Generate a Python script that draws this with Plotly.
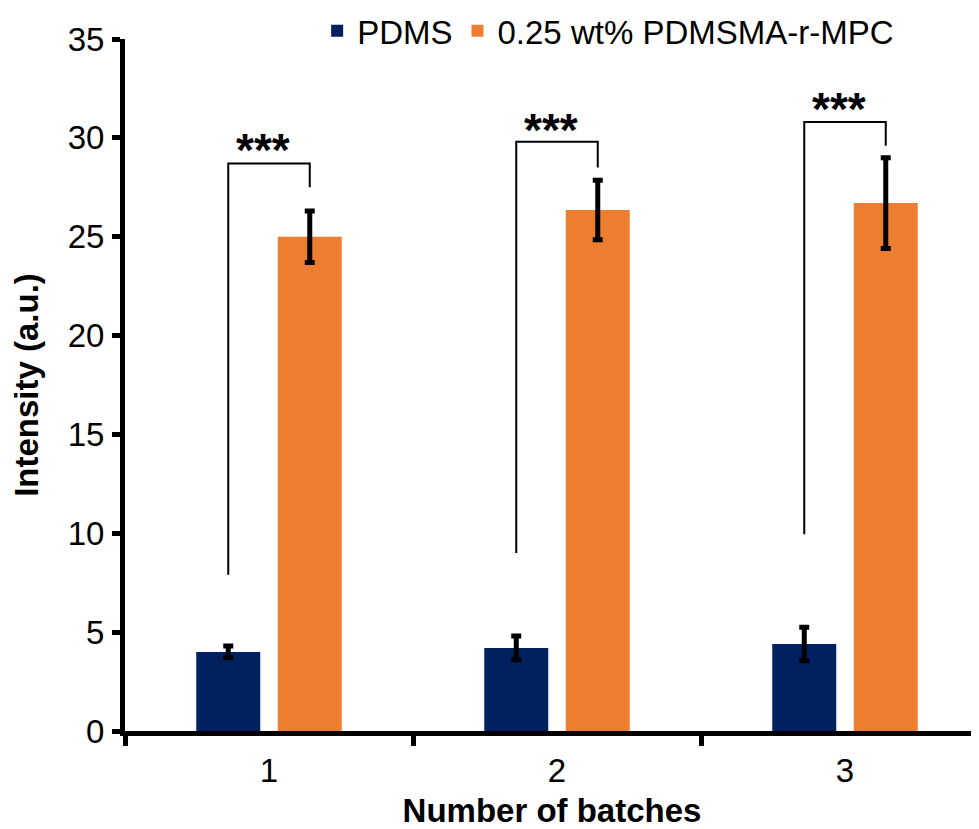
import plotly.graph_objects as go

# ---- data ----
batches = ["1", "2", "3"]
pdms_mean = [4.0, 4.2, 4.4]
pdms_err = [0.3, 0.6, 0.85]
mpc_mean = [25.0, 26.35, 26.7]
mpc_err = [1.3, 1.5, 2.3]
series_names = ["PDMS", "0.25 wt% PDMSMA-r-MPC"]
y_ticks = [0, 5, 10, 15, 20, 25, 30, 35]

# significance brackets (value units)
sig_left_bottom = [7.9, 9.0, 9.95]
sig_top = [28.7, 29.8, 30.8]
sig_right_bottom = [27.5, 28.5, 29.6]
sig_text_y = [29.65, 30.65, 31.7]
sig_labels = ["***", "***", "***"]

# ---- style ----
NAVY = "#002060"
ORANGE = "#ED7D31"
FONT = "Arial, Liberation Sans, sans-serif"
FS = 33
BARGAP = 0.434
BARGROUPGAP = 0.215

fig = go.Figure()
fig.add_trace(go.Bar(
    x=batches, y=pdms_mean, name=series_names[0],
    marker=dict(color=NAVY, line=dict(width=0)),
    error_y=dict(type="data", array=pdms_err, visible=True,
                 color="black", thickness=5, width=5),
))
fig.add_trace(go.Bar(
    x=batches, y=mpc_mean, name=series_names[1],
    marker=dict(color=ORANGE, line=dict(width=0)),
    error_y=dict(type="data", array=mpc_err, visible=True,
                 color="black", thickness=5, width=5),
))

# bracket positions derived from the bar layout parameters
slot = (1 - BARGAP) / 2
off = slot / 2
for i in range(len(batches)):
    xl = i - off
    xr = i + off
    fig.add_shape(
        type="path", xref="x", yref="y",
        path=f"M {xl},{sig_left_bottom[i]} L {xl},{sig_top[i]} L {xr},{sig_top[i]} L {xr},{sig_right_bottom[i]}",
        line=dict(color="black", width=2),
    )
    fig.add_annotation(
        x=i - 0.02, y=sig_text_y[i], xref="x", yref="y",
        text=f"<b>{sig_labels[i]}</b>", showarrow=False,
        font=dict(family=FONT, size=46, color="black"),
        xanchor="center", yanchor="middle", yshift=-5,
    )

# the page body adds an 8px offset, so the figure is sized to fill the window
fig.update_layout(
    width=971, height=821,
    paper_bgcolor="white", plot_bgcolor="white",
    margin=dict(l=117, r=0, t=31, b=98, autoexpand=False),
    barmode="group", bargap=BARGAP, bargroupgap=BARGROUPGAP,
    font=dict(family=FONT, size=FS, color="black"),
    showlegend=True,
    legend=dict(
        orientation="h", x=0.225, y=1.012, xanchor="left", yanchor="middle",
        font=dict(family=FONT, size=FS, color="black"),
        bgcolor="rgba(0,0,0,0)", itemwidth=30,
    ),
    xaxis=dict(
        type="category", automargin=False,
        range=[-0.5, -0.5 + 854 / 288],
        showline=True, linecolor="black", linewidth=5,
        ticks="outside", tickson="boundaries", ticklen=10, tickwidth=5, tickcolor="black",
        showgrid=False, zeroline=False,
        tickfont=dict(family=FONT, size=FS, color="black"),
        ticklabelstandoff=6,
        title=dict(text="<b>Number of batches</b>", font=dict(family=FONT, size=FS, color="black"), standoff=17),
    ),
    yaxis=dict(
        range=[0, 35], tickvals=y_ticks, automargin=False,
        showline=True, linecolor="black", linewidth=5,
        ticks="outside", ticklen=8, tickwidth=5, tickcolor="black",
        showgrid=False, zeroline=False,
        tickfont=dict(family=FONT, size=FS, color="black"),
        ticklabelstandoff=1,
        title=dict(text="<b>Intensity (a.u.)</b>", font=dict(family=FONT, size=FS, color="black"), standoff=27),
    ),
)

fig.write_html("out.html")
